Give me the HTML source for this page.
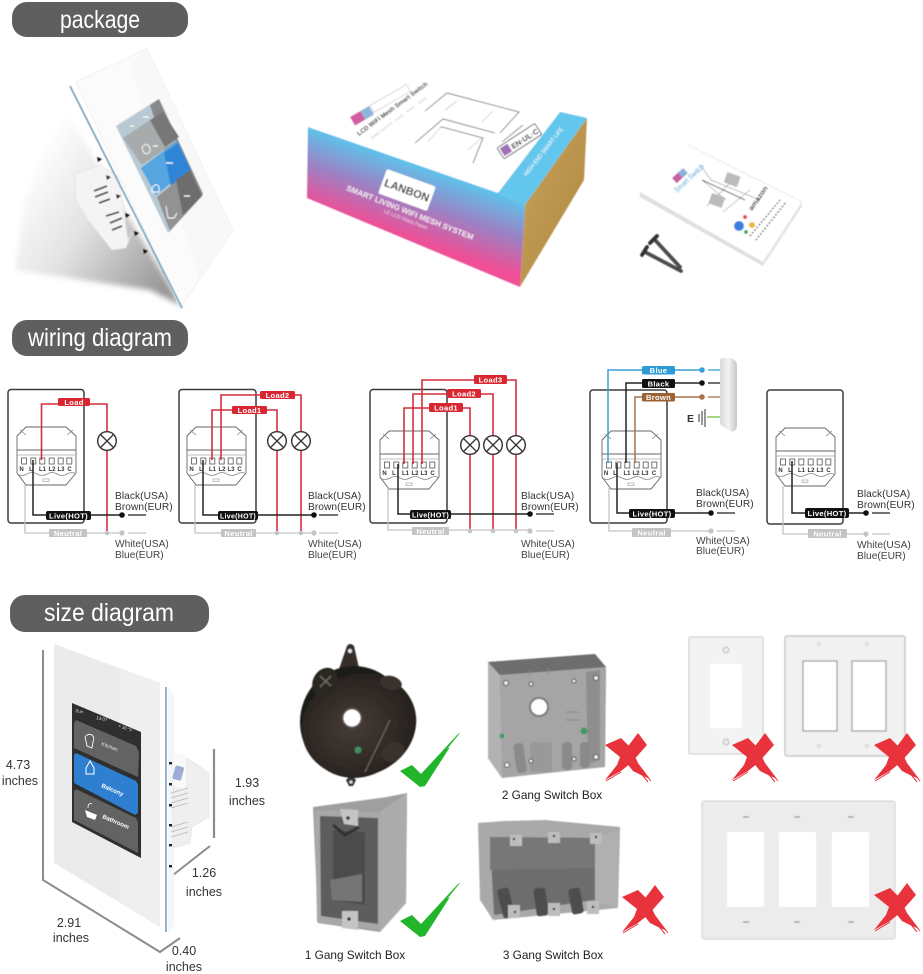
<!DOCTYPE html>
<html><head><meta charset="utf-8"><style>
html,body{margin:0;padding:0;background:#fff}
svg{display:block}
text{font-family:"Liberation Sans",sans-serif}
.lb{font-size:10.2px;fill:#333;letter-spacing:.05px}
.gl{font-size:10.2px;fill:#444}
.dim{font-size:12.5px;fill:#333;text-anchor:middle}
.cap{font-size:11.8px;fill:#222;text-anchor:middle}
.hd{fill:#fff;font-size:25px;text-anchor:middle}
.tag{font-size:7.6px;font-weight:bold;text-anchor:middle;fill:#fff;letter-spacing:.3px}
.t{font-size:6px;font-weight:bold;fill:#333;text-anchor:middle}
.r{fill:none;stroke:#d32f3d;stroke-width:1.6}
.k{fill:none;stroke:#222;stroke-width:1.5}
.n{fill:none;stroke:#c4c4c4;stroke-width:1.3}
</style></head><body>
<svg width="923" height="974" viewBox="0 0 923 974" xmlns="http://www.w3.org/2000/svg">
<defs>
<linearGradient id="shad" gradientUnits="userSpaceOnUse" x1="25" y1="170" x2="175" y2="270"><stop offset="0" stop-color="#fff"/><stop offset=".45" stop-color="#e2e2e2"/><stop offset="1" stop-color="#989898"/></linearGradient>
<linearGradient id="boxg" gradientUnits="userSpaceOnUse" x1="440" y1="172" x2="416" y2="240"><stop offset="0" stop-color="#5cc4ec"/><stop offset=".5" stop-color="#9b82c4"/><stop offset="1" stop-color="#ee4f96"/></linearGradient>
<linearGradient id="kraft" x1="0" y1="0" x2="1" y2="1"><stop offset="0" stop-color="#c9a45a"/><stop offset="1" stop-color="#ad8642"/></linearGradient>
<linearGradient id="gs1" x1="0" y1="0" x2="1" y2="0"><stop offset="0" stop-color="#d8d8d8"/><stop offset=".5" stop-color="#f2f2f2"/><stop offset="1" stop-color="#c6c6c6"/></linearGradient>
<radialGradient id="rbx" cx=".45" cy=".5" r=".6"><stop offset="0" stop-color="#463c36"/><stop offset="1" stop-color="#231e1b"/></radialGradient>
<filter id="b1"><feGaussianBlur stdDeviation=".4"/></filter>
<filter id="b3"><feGaussianBlur stdDeviation="3"/></filter>
<g id="dev">
<path d="M0 9 L9 0 H49 L59 9 V23 H0Z" fill="#fff" stroke="#666" stroke-width=".9"/>
<path d="M0 23H59V46L49 58H9L0 46Z" fill="#fff" stroke="#666" stroke-width=".9"/>
<path d="M3 3 L9 8 M56 3 L50 8" stroke="#888" stroke-width=".8"/>
<path d="M0 28H59" stroke="#aaa" stroke-width=".7"/>
<path d="M0 47q5 3 10 0t10 0 10 0 10 0 10 0 9 0" fill="none" stroke="#888" stroke-width=".8"/>
<g fill="#fff" stroke="#666" stroke-width=".9"><rect x="4.5" y="31" width="5" height="6"/><rect x="13.8" y="31" width="5" height="6"/><rect x="22.8" y="31" width="5" height="6"/><rect x="32.2" y="31" width="5" height="6"/><rect x="41.2" y="31" width="5" height="6"/><rect x="49.8" y="31" width="5" height="6"/></g>
<rect x="26" y="52" width="6" height="2.5" fill="none" stroke="#999" stroke-width=".6"/>
</g>
<g id="lamp"><circle r="9.3" fill="#fff" stroke="#333" stroke-width="1.4"/><path d="M-6.5 -6.5L6.5 6.5M6.5 -6.5L-6.5 6.5" stroke="#333" stroke-width="1.3"/></g>
<g id="x">
<path d="M35 0 L44 12 L28 30 L18 38 L2 47 L14 32 L17 24Z" fill="#e8333d"/>
<path d="M2 12 L18 5 L28 15 L35 30 L47 46 L38 42 L30 38 L22 28Z" fill="#e8333d"/>
<path d="M3 48L18 39M40 38L48 48M36 38L45 49" stroke="#e8333d" stroke-width="1" fill="none"/>
</g>
<path id="chk" d="M0 38 L12 32 L21 41 L58 1 L60 0 L47 16 L50 14 L25 53 L20 54Z" fill="#22b52a"/>
</defs>

<!-- HEADERS -->
<rect x="12" y="2" width="176" height="35" rx="15" fill="#5f5f5f"/>
<text class="hd" x="100" y="28" textLength="80" lengthAdjust="spacingAndGlyphs">package</text>
<rect x="12" y="320" width="176" height="36" rx="15" fill="#5f5f5f"/>
<text class="hd" x="100" y="346" textLength="144" lengthAdjust="spacingAndGlyphs">wiring diagram</text>
<rect x="10" y="595" width="199" height="37" rx="15" fill="#5f5f5f"/>
<text class="hd" x="109" y="621" textLength="130" lengthAdjust="spacingAndGlyphs">size diagram</text>

<!-- PACKAGE PANEL -->
<polygon points="62,100 100,170 182,306 150,290 15,270 25,200" fill="url(#shad)" filter="url(#b3)"/>
<polygon points="69,85 182,308 233,230 147,48 76,82" fill="#fff"/>
<polygon points="76,82 147,48 233,230 180,308" fill="#fbfbfb" stroke="#eeeeee" stroke-width=".7"/>
<polygon points="130,64 147,48 233,230 200,280" fill="#f6f6f6" opacity=".7"/>
<g filter="url(#b1)">
<polygon points="75,173 100,165 118,176 122,200 128,240 132,232 126,248 112,250 100,235 88,220 76,200" fill="#f4f4f4" stroke="#e2e2e2" stroke-width=".7"/>
<path d="M94 191L107 186M95 197L108 192M99 203L110 199M106 216L119 212M110 223L122 218M112 230L122 226" stroke="#111" stroke-width="1.7"/>
<line x1="70" y1="86" x2="182" y2="308" stroke="#6f9dbc" stroke-width="1.6"/>
<g fill="#111"><path d="M97 157l5 2-4 3z"/><path d="M106 175l5 2-4 3z"/><path d="M116 194l5 2-4 3z"/><path d="M125 213l5 2-4 3z"/><path d="M134 231l5 2-4 3z"/><path d="M143 249l5 2-4 3z"/></g>
<polygon points="116,126 159,99 203,194 168,233" fill="#b8c9d3"/>
<polygon points="150,105 159,99 203,194 185,212" fill="#7c7c7c" opacity=".85"/>
<polygon points="123,138 150,120 177,141 142,165" fill="#a7abac"/>
<polygon points="150,120 163,112 179,137 165,147" fill="#777"/>
<polygon points="141,168 177,141 190,168 156,195" fill="#54a5e0"/>
<polygon points="164,153 178,143 191,170 171,187" fill="#2f85d6"/>
<polygon points="157,197 190,170 202,196 170,231" fill="#929292"/>
<polygon points="176,180 190,170 202,196 183,215" fill="#6d6d6d"/>
<path d="M142 148q3-6 7-2 3 5-2 8l-3-1z M152 188q4-6 7-1v5h-7z M166 206l2 12h6l3-5" fill="none" stroke="#fff" stroke-width=".9"/>
<path d="M153 146h5M166 163h7M184 196h6M130 126h4M143 117h6" stroke="#fff" stroke-width="1.3"/>
</g>

<!-- BOX -->
<g filter="url(#b1)">
<polygon points="308,127 440,72 560,112 498,193" fill="#fff"/>
<polygon points="560,112 587,118 525,205 498,193" fill="#63c6ec"/>
<polygon points="587,118 584,180 520,287 525,205" fill="url(#kraft)"/>
<polygon points="308,127 498,193 525,205 520,287 307,198" fill="url(#boxg)"/>
<g transform="translate(407 190) rotate(20)"><rect x="-26" y="-13" width="52" height="26" rx="2" fill="#fff"/><text x="0" y="4" font-size="11" font-weight="bold" fill="#3a3a3a" text-anchor="middle">LANBON</text></g>
<text transform="translate(409 215) rotate(21.5)" font-size="7.8" font-weight="bold" fill="#fff" fill-opacity=".85" text-anchor="middle" textLength="136" lengthAdjust="spacingAndGlyphs" font-family="Liberation Serif">SMART LIVING WIFI MESH SYSTEM</text>
<text transform="translate(405 221) rotate(21.5)" font-size="5" fill="#fff" fill-opacity=".75" text-anchor="middle">LE LCD Glass Panel</text>
<text transform="translate(545 153) rotate(-52)" font-size="6.2" fill="#fff" text-anchor="middle" textLength="60" lengthAdjust="spacingAndGlyphs">HIGH-END SMART LIFE</text>
<text transform="translate(359 136) rotate(-36.5)" font-size="6.2" font-weight="bold" fill="#222" textLength="86" lengthAdjust="spacingAndGlyphs" font-family="Liberation Serif">LCD WiFi Mesh Smart Switch</text>
<text transform="translate(372 139) rotate(-36.5)" font-size="3.5" fill="#aaa" textLength="68">Smart control · voice · timer · touch</text>
<g transform="translate(350 117) rotate(-30)"><rect x="0" y="0" width="12" height="10" fill="#d45ba0"/><rect x="12" y="0" width="10" height="10" fill="#8cb6dc"/><rect x="23" y="0" width="42" height="8" fill="#fff" stroke="#bbb" stroke-width=".6"/></g>
<path d="M425 111L447 93L519 112L500 133" fill="none" stroke="#555" stroke-width=".8"/>
<path d="M415 143L443 119L495 133M440 127L442 127L483 138L473 163" fill="none" stroke="#555" stroke-width=".8"/>
<path d="M445 110L457 101M482 122L493 111M428 142L440 128M468 150L482 138" fill="none" stroke="#ccc" stroke-width=".8"/>
<path d="M502 142L523 125" stroke="#555" stroke-width=".8"/>
<g transform="translate(497 148) rotate(-33)"><rect x="0" y="0" width="45" height="13" fill="#fff" stroke="#444" stroke-width=".9" rx="1"/><rect x="2" y="2" width="9" height="9" fill="#9f6fb8"/><text x="13" y="10" font-size="7.5" font-weight="bold" fill="#222">EN·UL·C</text></g>
</g>

<!-- MANUAL -->
<g filter="url(#b1)">
<polygon points="640,192 688,145 802,202 763,262" fill="#fff"/>
<path d="M640 192L640 197L763 266L802 206L802 202L763 262Z" fill="#dfdfdf"/>
<path d="M688 145L802 202" stroke="#e6e6e6" stroke-width=".8"/>
<g transform="translate(672 178) rotate(-42)"><rect x="0" y="0" width="9" height="7" fill="#c85ea4"/><rect x="8" y="0" width="7" height="7" fill="#8cb2d8"/></g>
<text transform="translate(677 193) rotate(-43)" font-size="7.5" fill="#43a8d6" textLength="38" lengthAdjust="spacingAndGlyphs">Smart Switch</text>
<path d="M701 166L711 180L760 200M702 180L726 200M707 206L733 180L735 187M723 212L750 190" fill="none" stroke="#aaa" stroke-width=".8"/>
<path d="M702 180L745 200" stroke="#222" stroke-width=".9"/>
<rect x="725" y="174" width="14" height="11" fill="#bbb" transform="rotate(20 732 180)"/>
<rect x="710" y="195" width="14" height="11" fill="#bbb" transform="rotate(20 717 200)"/>
<circle cx="739" cy="226" r="5" fill="#3a7de0"/><circle cx="745" cy="217" r="2" fill="#e04a3a"/><circle cx="752" cy="225" r="3" fill="#edb92e"/><circle cx="746" cy="232" r="2" fill="#43a853"/>
<text transform="translate(752 211) rotate(-55)" font-size="7" font-weight="bold" fill="#222" textLength="28" lengthAdjust="spacingAndGlyphs">amazon</text>
<path d="M750 236L780 200M756 240L786 202" stroke="#333" stroke-width="1.4" stroke-dasharray="1.5 2"/>
<path d="M655 240l25 27M645 252l36 19" stroke="#4b4b4b" stroke-width="3.8" stroke-linecap="round"/>
<path d="M657 236l-7 7M647 247l-5 8" stroke="#333" stroke-width="3.8" stroke-linecap="round"/>
</g>

<!-- WIRING 1 -->
<g>
<rect x="8" y="389.5" width="76" height="133.5" rx="3" fill="none" stroke="#3b3b3b" stroke-width="1.5"/>
<use href="#dev" x="17" y="427"/>
<path class="n" d="M25 485V533H122"/><path class="r" d="M41.5 460V404H107V534"/>
<path class="k" d="M33 460V515H122"/>
<use href="#lamp" x="107" y="441"/>
<circle cx="107" cy="533" r="2.3" fill="#c4c4c4"/><circle cx="122" cy="533" r="2.6" fill="#c4c4c4"/><circle cx="122" cy="515" r="2.8" fill="#111"/>
<path d="M128 515H146" stroke="#222" stroke-width="1.3"/><path d="M128 533H146" stroke="#c4c4c4" stroke-width="1.3"/>
<rect x="58" y="398" width="32" height="8" rx="1.5" fill="#d92631"/><text class="tag" x="74" y="405">Load</text>
<rect x="46" y="511" width="45" height="9" rx="2" fill="#111"/><text class="tag" x="68.5" y="518.5">Live(HOT)</text>
<rect x="49" y="529" width="38" height="8" rx="1" fill="#c4c4c4"/><text class="tag" x="68" y="536">Neutral</text>
<text class="t" y="471"><tspan x="21.5">N</tspan><tspan x="31">L</tspan><tspan x="42.5">L1</tspan><tspan x="52">L2</tspan><tspan x="61">L3</tspan><tspan x="69.5">C</tspan></text>
<text class="lb" x="115" y="499">Black(USA)</text><text class="lb" x="115" y="510">Brown(EUR)</text>
<text class="gl" x="115" y="547">White(USA)</text><text class="gl" x="115" y="558">Blue(EUR)</text>
</g>
<!-- WIRING 2 -->
<g>
<rect x="179" y="389.5" width="77" height="133.5" rx="3" fill="none" stroke="#3b3b3b" stroke-width="1.5"/>
<use href="#dev" x="187" y="427"/>
<path class="n" d="M195 485V533H314"/>
<path class="r" d="M212 460V410H277V534"/><path class="r" d="M221 460V395H301V534"/>
<path class="k" d="M203 460V515H314"/>
<use href="#lamp" x="277" y="441"/><use href="#lamp" x="301" y="441"/>
<circle cx="277" cy="533" r="2.3" fill="#c4c4c4"/><circle cx="301" cy="533" r="2.3" fill="#c4c4c4"/><circle cx="314" cy="533" r="2.6" fill="#c4c4c4"/><circle cx="314" cy="515" r="2.8" fill="#111"/>
<path d="M319 515H338" stroke="#222" stroke-width="1.3"/><path d="M319 533H338" stroke="#c4c4c4" stroke-width="1.3"/>
<rect x="232" y="406" width="35" height="8" rx="1.5" fill="#d92631"/><text class="tag" x="249.5" y="413">Load1</text>
<rect x="260" y="391" width="35" height="8" rx="1.5" fill="#d92631"/><text class="tag" x="277.5" y="398">Load2</text>
<rect x="218" y="511" width="40" height="9" rx="2" fill="#111"/><text class="tag" x="238" y="518.5" textLength="36" lengthAdjust="spacingAndGlyphs">Live(HOT)</text>
<rect x="221" y="529" width="35" height="8" rx="1" fill="#c4c4c4"/><text class="tag" x="238.5" y="536">Neutral</text>
<text class="t" y="471"><tspan x="191.5">N</tspan><tspan x="201">L</tspan><tspan x="212.5">L1</tspan><tspan x="222">L2</tspan><tspan x="231">L3</tspan><tspan x="239.5">C</tspan></text>
<text class="lb" x="308" y="499">Black(USA)</text><text class="lb" x="308" y="510">Brown(EUR)</text>
<text class="gl" x="308" y="547">White(USA)</text><text class="gl" x="308" y="558">Blue(EUR)</text>
</g>
<!-- WIRING 3 -->
<g>
<rect x="370" y="389.5" width="77" height="133.5" rx="3" fill="none" stroke="#3b3b3b" stroke-width="1.5"/>
<use href="#dev" x="380" y="431"/>
<path class="n" d="M388 488V530H530"/>
<path class="r" d="M404 464V408H470V531"/><path class="r" d="M413 464V394H493V531"/><path class="r" d="M422 464V380H516V531"/>
<path class="k" d="M398 464V514H530"/>
<use href="#lamp" x="470" y="445"/><use href="#lamp" x="493" y="445"/><use href="#lamp" x="516" y="445"/>
<circle cx="470" cy="531" r="2.3" fill="#c4c4c4"/><circle cx="493" cy="531" r="2.3" fill="#c4c4c4"/><circle cx="516" cy="531" r="2.3" fill="#c4c4c4"/><circle cx="530" cy="531" r="2.6" fill="#c4c4c4"/><circle cx="530" cy="514" r="2.8" fill="#111"/>
<path d="M536 514H554" stroke="#222" stroke-width="1.3"/><path d="M536 531H554" stroke="#c4c4c4" stroke-width="1.3"/>
<rect x="429" y="403" width="34" height="9" rx="1.5" fill="#d92631"/><text class="tag" x="446" y="410.5">Load1</text>
<rect x="447" y="389" width="34" height="9" rx="1.5" fill="#d92631"/><text class="tag" x="464" y="396.5">Load2</text>
<rect x="474" y="375" width="33" height="9" rx="1.5" fill="#d92631"/><text class="tag" x="490.5" y="382.5">Load3</text>
<rect x="410" y="510" width="41" height="9" rx="2" fill="#111"/><text class="tag" x="430.5" y="517.5" textLength="37" lengthAdjust="spacingAndGlyphs">Live(HOT)</text>
<rect x="412" y="527" width="37" height="8" rx="1" fill="#c4c4c4"/><text class="tag" x="430.5" y="534">Neutral</text>
<text class="t" y="475"><tspan x="384.5">N</tspan><tspan x="394">L</tspan><tspan x="405.5">L1</tspan><tspan x="415">L2</tspan><tspan x="424">L3</tspan><tspan x="432.5">C</tspan></text>
<text class="lb" x="521" y="499">Black(USA)</text><text class="lb" x="521" y="510">Brown(EUR)</text>
<text class="gl" x="521" y="547">White(USA)</text><text class="gl" x="521" y="558">Blue(EUR)</text>
</g>
<!-- WIRING 4 -->
<g>
<rect x="590" y="390" width="77" height="133" rx="3" fill="none" stroke="#3b3b3b" stroke-width="1.5"/>
<use href="#dev" x="602" y="431"/>
<path class="n" d="M609 488V531H711"/>
<path d="M608 463V370H702" fill="none" stroke="#3a9fd8" stroke-width="1.5"/>
<path d="M626 463V383H702" class="k"/>
<path d="M635 463V397H702" fill="none" stroke="#a9714a" stroke-width="1.5"/>
<path class="k" d="M617 463V513H711"/>
<circle cx="702" cy="370" r="2.8" fill="#3a9fd8"/><circle cx="702" cy="383" r="2.8" fill="#111"/><circle cx="702" cy="397" r="2.8" fill="#a9714a"/>
<path d="M708 370H720" stroke="#3a9fd8" stroke-width="1.3"/><path d="M708 383H720" stroke="#222" stroke-width="1.3"/><path d="M708 397H720" stroke="#a9714a" stroke-width="1.3"/><path d="M707 417H720" stroke="#76c043" stroke-width="1.3"/>
<path d="M722 358L731 358Q737 360 737 366V426Q736 433 730 431L722 426Q720 425 720 420V362Q720 358 722 358Z" fill="url(#gs1)"/>
<text x="687" y="422" font-size="10.5" font-weight="bold" fill="#333">E</text>
<path d="M699 414V422M702 411V425M705 409V427" stroke="#444" stroke-width="1.1"/>
<circle cx="711" cy="531" r="2.6" fill="#c4c4c4"/><circle cx="711" cy="513" r="2.8" fill="#111"/>
<path d="M717 513H735" stroke="#222" stroke-width="1.3"/><path d="M717 531H735" stroke="#c4c4c4" stroke-width="1.3"/>
<rect x="642" y="366" width="33" height="8.5" rx="1.5" fill="#2f9ad8"/><text class="tag" x="658.5" y="373">Blue</text>
<rect x="642" y="379" width="33" height="9" rx="1.5" fill="#111"/><text class="tag" x="658.5" y="386.5">Black</text>
<rect x="642" y="393" width="33" height="8.5" rx="1.5" fill="#9b6236"/><text class="tag" x="658.5" y="400">Brown</text>
<rect x="629" y="509" width="46" height="9" rx="2" fill="#111"/><text class="tag" x="652" y="516.5">Live(HOT)</text>
<rect x="632" y="528" width="39" height="9" rx="1" fill="#c4c4c4"/><text class="tag" x="651.5" y="535.5">Neutral</text>
<text class="t" y="475"><tspan x="606">N</tspan><tspan x="615">L</tspan><tspan x="627">L1</tspan><tspan x="636">L2</tspan><tspan x="645">L3</tspan><tspan x="654">C</tspan></text>
<text class="lb" x="696" y="496">Black(USA)</text><text class="lb" x="696" y="507">Brown(EUR)</text>
<text class="gl" x="696" y="544">White(USA)</text><text class="gl" x="696" y="554">Blue(EUR)</text>
</g>
<!-- WIRING 5 -->
<g>
<rect x="767" y="390" width="76" height="134" rx="3" fill="none" stroke="#3b3b3b" stroke-width="1.5"/>
<use href="#dev" x="776" y="428"/>
<path class="n" d="M783 486V534H866"/>
<path class="k" d="M792 461V513H866"/>
<circle cx="866" cy="534" r="2.6" fill="#c4c4c4"/><circle cx="866" cy="513" r="2.8" fill="#111"/>
<path d="M872 513H890" stroke="#222" stroke-width="1.3"/><path d="M872 534H890" stroke="#c4c4c4" stroke-width="1.3"/>
<rect x="805" y="508" width="44" height="10" rx="2" fill="#111"/><text class="tag" x="827" y="516">Live(HOT)</text>
<rect x="808" y="529" width="39" height="9" rx="1" fill="#c4c4c4"/><text class="tag" x="827.5" y="536.5">Neutral</text>
<text class="t" y="472"><tspan x="780.5">N</tspan><tspan x="790">L</tspan><tspan x="801.5">L1</tspan><tspan x="811">L2</tspan><tspan x="820">L3</tspan><tspan x="828.5">C</tspan></text>
<text class="lb" x="857" y="497">Black(USA)</text><text class="lb" x="857" y="508">Brown(EUR)</text>
<text class="gl" x="857" y="548">White(USA)</text><text class="gl" x="857" y="559">Blue(EUR)</text>
</g>

<!-- SIZE DEVICE -->
<path d="M43 650V880L160 952L180 938" fill="none" stroke="#8c8c8c" stroke-width="2"/>
<path d="M214 749V838" stroke="#8c8c8c" stroke-width="2.2"/>
<path d="M173 875L210 846" stroke="#8c8c8c" stroke-width="2"/>
<polygon points="54,644 160,683 160,927 54,863" fill="#ebebeb"/>
<polygon points="120,668 160,683 160,927 120,903" fill="#efefef"/>
<polygon points="168,687 174,695 174,925 168,932" fill="#f4f7fa"/>
<polygon points="173,752 190,760 209,773 209,817 192,827 190,843 173,848" fill="#efefef" stroke="#e0e0e0" stroke-width=".6"/>
<polygon points="173,752 186,756 186,790 173,785" fill="#f9f9f9"/>
<rect x="174" y="766" width="9" height="14" rx="2" fill="#6d84c0" opacity=".65" transform="rotate(15 178 772)"/>
<path d="M171 793L188 788M171 798L188 793M171 803L188 798M171 808L188 803M171 827L188 822M171 832L188 827M171 837L188 832" stroke="#c4c4c4" stroke-width="1"/>
<path d="M166 687V932" stroke="#87aac4" stroke-width="1.8"/>
<g fill="#222"><rect x="169" y="762" width="3" height="2.4"/><rect x="169" y="783" width="3" height="2.4"/><rect x="169" y="804" width="3" height="2.4"/><rect x="169" y="824" width="3" height="2.4"/><rect x="169" y="844" width="3" height="2.4"/><rect x="169" y="865" width="3" height="2.4"/></g>
<polygon points="72,703 141,732 141,858 72,822" fill="#2f2f2f"/>
<polygon points="74,723 76,720 136,746 139,752 138,777 74,748" fill="#636363"/>
<polygon points="74,755 76,753 136,781 138,785 138,813 135,815 74,783" fill="#2f7fd1"/>
<polygon points="74,791 76,789 136,818 138,822 138,853 74,820" fill="#636363"/>
<path d="M85 737q3-4 7-2 3 3 1 7l-1 6-5-2-1-5z" fill="none" stroke="#fff" stroke-width=".9"/>
<path d="M86 768l4-7 4 7v6h-8z" fill="none" stroke="#fff" stroke-width="1"/>
<path d="M85 810l12 5-2 5-8-3z" fill="#fff"/><path d="M88 808q0-6 4-4" fill="none" stroke="#fff" stroke-width=".8"/>
<text transform="translate(101 745) rotate(22)" font-size="5.2" fill="#e8e8e8">Kitchen</text>
<text transform="translate(101 787) rotate(23)" font-size="6" font-weight="bold" fill="#fff">Balcony</text>
<text transform="translate(102 818) rotate(23)" font-size="6" font-weight="bold" fill="#fff">Bathroom</text>
<text transform="translate(75 712) rotate(10)" font-size="4.5" fill="#ddd">Sun</text>
<text transform="translate(96 719) rotate(12)" font-size="4.5" fill="#ddd">13:07</text>
<text transform="translate(118 727) rotate(20)" font-size="4.5" fill="#ddd">+ 30 °F</text>
<text class="dim" x="18" y="769">4.73</text><text class="dim" x="20" y="785">inches</text>
<text class="dim" x="247" y="787">1.93</text><text class="dim" x="247" y="805">inches</text>
<text class="dim" x="204" y="877">1.26</text><text class="dim" x="204" y="896">inches</text>
<text class="dim" x="69" y="927">2.91</text><text class="dim" x="71" y="942">inches</text>
<text class="dim" x="184" y="955">0.40</text><text class="dim" x="184" y="971">inches</text>

<!-- ROUND BOX -->
<g filter="url(#b1)">
<path d="M338 672L347 646Q350 642 354 646L359 668Z" fill="#352f2b"/><circle cx="350" cy="651" r="2.2" fill="#ddd"/>
<ellipse cx="354" cy="722" rx="54" ry="56" fill="#1f1a17"/>
<ellipse cx="359" cy="725" rx="58" ry="51" fill="url(#rbx)" transform="rotate(-20 359 725)"/>
<ellipse cx="325" cy="682" rx="12" ry="15" fill="#2b2521" transform="rotate(30 325 682)"/>
<path d="M320 676l11 10M331 676l-11 11" stroke="#6a625c" stroke-width="1.8"/>
<ellipse cx="391" cy="683" rx="11" ry="7" fill="#3b332e" transform="rotate(15 391 683)"/>
<ellipse cx="393" cy="752" rx="12" ry="9" fill="#3b332e" transform="rotate(-30 393 752)"/>
<circle cx="352" cy="718" r="9.5" fill="#fff" stroke="#5a514b" stroke-width="2"/>
<circle cx="358" cy="750" r="3.5" fill="#3f8d5d"/>
<path d="M365 772L390 720" stroke="#6e655e" stroke-width="1.2"/>
<path d="M346 780q5-6 10 0l-3 6h-4z" fill="#352f2b"/><circle cx="351" cy="782" r="1.6" fill="#ddd"/>
</g>
<use href="#chk" x="400" y="733"/>
<use href="#chk" x="400" y="883"/>

<!-- 2 GANG BOX -->
<g filter="url(#b1)">
<polygon points="488,662 595,654 606,667 605,757 502,778 488,758" fill="#808080"/>
<polygon points="500,675 606,667 605,767 502,778" fill="#a5a5a5"/>
<polygon points="488,662 500,675 502,778 488,758" fill="#b2b2b2"/>
<polygon points="488,662 595,654 606,667 500,675" fill="#6e6e6e"/>
<polygon points="586,672 600,670 600,760 588,764" fill="#8e8e8e"/>
<circle cx="539" cy="707" r="10" fill="#777"/><circle cx="539" cy="707" r="8" fill="#fff"/>
<g fill="#8a8a8a"><rect x="515" y="743" width="10" height="30" rx="4" transform="rotate(-8 520 758)"/><rect x="530" y="742" width="22" height="30" rx="3" fill="#999"/><rect x="562" y="742" width="10" height="28" rx="4"/><rect x="580" y="742" width="10" height="26" rx="4"/></g>
<g fill="#eee" stroke="#444" stroke-width="1"><circle cx="506" cy="683" r="2.5"/><circle cx="531" cy="684" r="2"/><circle cx="574" cy="681" r="2"/><circle cx="596" cy="678" r="2.5"/><circle cx="507" cy="765" r="2.5"/><circle cx="531" cy="761" r="2"/><circle cx="574" cy="759" r="2"/><circle cx="596" cy="757" r="2.5"/></g>
<circle cx="584" cy="731" r="3.5" fill="#3f9a62"/><circle cx="502" cy="736" r="2.5" fill="#3f9a62"/>
<path d="M530 670v6M548 668v6M566 712h12M566 720h14" stroke="#888" stroke-width="1"/>
</g>
<use href="#x" x="603" y="733"/>
<text class="cap" x="552" y="799">2 Gang Switch Box</text>

<!-- 1 GANG BOX -->
<g filter="url(#b1)">
<polygon points="313,807 387,797 407,793 406,903 380,932 318,923" fill="#9f9f9f"/>
<polygon points="380,812 407,793 406,903 380,932" fill="#acacac"/>
<polygon points="315,810 380,812 380,930 317,922" fill="#a8a8a8"/>
<polygon points="320,816 378,818 378,924 321,916" fill="#5d5d5d"/>
<polygon points="333,830 365,832 365,905 333,900" fill="#4c4c4c"/>
<path d="M330 880l32-6v28l-30-2z" fill="#757575"/>
<path d="M333 825l12 10 14-8" stroke="#333" stroke-width="3" fill="none"/>
<polygon points="340,809 358,810 358,826 344,824" fill="#c4c4c4"/><circle cx="348" cy="818" r="1.8" fill="#333"/>
<polygon points="342,911 358,911 358,930 342,928" fill="#c4c4c4"/><circle cx="349" cy="919" r="1.8" fill="#333"/>
</g>
<text class="cap" x="355" y="959">1 Gang Switch Box</text>

<!-- 3 GANG BOX -->
<g filter="url(#b1)">
<polygon points="478,823 504,821 545,820 620,827 618,908 493,920 480,900" fill="#a9a9a9"/>
<polygon points="490,837 595,838 595,900 494,915" fill="#6d6d6d"/>
<polygon points="490,837 595,838 595,868 490,870" fill="#777"/>
<polygon points="595,838 618,830 618,908 595,902" fill="#b0b0b0"/>
<g fill="#4e4e4e"><rect x="500" y="888" width="12" height="30" rx="3" transform="rotate(-14 506 903)"/><rect x="535" y="888" width="12" height="28" rx="3" transform="rotate(-8 541 902)"/><rect x="570" y="888" width="12" height="26" rx="3" transform="rotate(-10 576 901)"/></g>
<g fill="#bdbdbd"><rect x="510" y="835" width="12" height="11"/><rect x="548" y="832" width="12" height="11"/><rect x="590" y="833" width="12" height="11"/><rect x="508" y="905" width="12" height="13"/><rect x="548" y="903" width="12" height="13"/><rect x="587" y="901" width="12" height="13"/></g>
<g fill="#333"><circle cx="514" cy="839" r="1.2"/><circle cx="554" cy="836" r="1.2"/><circle cx="596" cy="837" r="1.2"/><circle cx="515" cy="912" r="1.2"/><circle cx="554" cy="909" r="1.2"/><circle cx="593" cy="907" r="1.2"/></g>
</g>
<use href="#x" x="620" y="885"/>
<text class="cap" x="553" y="959">3 Gang Switch Box</text>

<!-- PLATES -->
<g filter="url(#b1)">
<rect x="689" y="637" width="74" height="117" rx="1.5" fill="#f3f3f3" stroke="#c8c8c8" stroke-width="1"/>
<rect x="710" y="664" width="32" height="64" rx="1.5" fill="#fff"/>
<circle cx="726" cy="650" r="3" fill="#e8e8e8" stroke="#aaa" stroke-width=".7"/><circle cx="726" cy="742" r="3" fill="#e8e8e8" stroke="#aaa" stroke-width=".7"/>
<rect x="785" y="636" width="120" height="120" rx="2" fill="#f1f1f1" stroke="#bcbcbc" stroke-width="1.2"/>
<rect x="803" y="661" width="34" height="70" fill="#fff" stroke="#8e8e8e" stroke-width="1.1"/>
<rect x="852" y="661" width="34" height="70" fill="#fff" stroke="#8e8e8e" stroke-width="1.1"/>
<g fill="#e0e0e0"><circle cx="819" cy="644" r="2.5"/><circle cx="867" cy="644" r="2.5"/><circle cx="819" cy="746" r="2.5"/><circle cx="867" cy="746" r="2.5"/></g>
<rect x="702" y="801" width="193" height="138" rx="2" fill="#ececec" stroke="#d0d0d0" stroke-width="1"/>
<rect x="727" y="832" width="37" height="75" rx="1" fill="#fff"/><rect x="779" y="832" width="37" height="75" rx="1" fill="#fff"/><rect x="832" y="832" width="37" height="75" rx="1" fill="#fff"/>
<g stroke="#8c8c8c" stroke-width="1.2"><path d="M743 817h6M794 817h6M848 817h6M743 922h6M794 922h6M848 922h6"/></g>
</g>
<use href="#x" x="730" y="733"/>
<use href="#x" x="872" y="733"/>
<use href="#x" x="872" y="883"/>
</svg>
</body></html>
